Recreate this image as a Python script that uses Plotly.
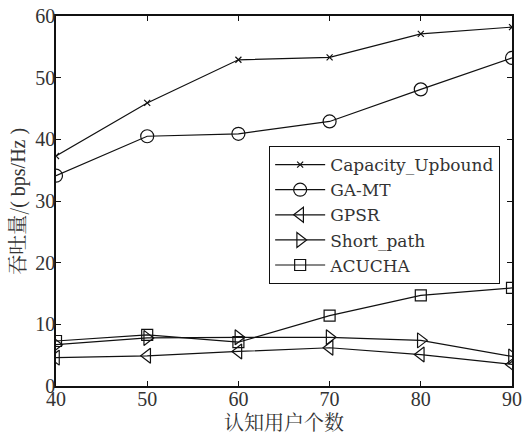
import plotly.graph_objects as go

users = [40, 50, 60, 70, 80, 90]
capacity_upbound = [37.3, 45.9, 52.9, 53.3, 57.1, 58.2]
ga_mt = [34.1, 40.5, 40.9, 42.9, 48.1, 53.2]
gpsr = [4.6, 4.9, 5.6, 6.2, 5.1, 3.5]
short_path = [6.7, 7.8, 7.9, 7.9, 7.4, 4.8]
acucha = [7.3, 8.3, 7.1, 11.4, 14.7, 15.9]

x_ticks = [40, 50, 60, 70, 80, 90]
y_ticks = [0, 10, 20, 30, 40, 50, 60]
x_title = "认知用户个数"
y_title = "吞吐量/<span style='font-family:Liberation Serif'>( bps/Hz )</span>"

FONT = "Liberation Serif, DejaVu Serif, serif"
LEGFONT = "DejaVu Serif, Liberation Serif, serif"
CJK = "Noto Serif CJK SC, Noto Sans CJK SC, serif"

series = [
    ("Capacity_Upbound", capacity_upbound, "x-thin-open", 6),
    ("GA-MT", ga_mt, "circle-open", 13),
    ("GPSR", gpsr, "triangle-left-open", 13),
    ("Short_path", short_path, "triangle-right-open", 13),
    ("ACUCHA", acucha, "square-open", 11),
]

fig = go.Figure()
for name, vals, sym, size in series:
    fig.add_trace(go.Scatter(
        x=users, y=vals, name=name, mode="lines+markers",
        line=dict(color="#111111", width=1.2),
        marker=dict(symbol=sym, size=size, color="#111111",
                    line=dict(color="#111111", width=1.2)),
    ))

axis_common = dict(
    showline=True, linecolor="#111111", linewidth=1.5, mirror="ticks",
    ticks="inside", ticklen=5, tickcolor="#111111", tickwidth=1,
    showgrid=False, zeroline=False, automargin=False,
    ticklabeloverflow="allow",
    tickfont=dict(family=FONT, size=20, color="#333333"),
)

fig.update_layout(
    width=528, height=434,
    margin=dict(l=56, r=16, t=16, b=48),
    paper_bgcolor="white", plot_bgcolor="white",
    showlegend=True,
    legend=dict(
        x=0.467, y=0.649, xanchor="left", yanchor="top",
        bgcolor="white", bordercolor="#111111", borderwidth=1.2,
        font=dict(family=LEGFONT, size=17, color="#333333"),
        tracegroupgap=0, itemwidth=50,
    ),
    xaxis=dict(range=[40, 90], tickvals=x_ticks, ticktext=[str(v) for v in x_ticks],
               ticklabelstandoff=-6, **axis_common),
    yaxis=dict(range=[0, 60], tickvals=y_ticks, ticktext=[str(v) for v in y_ticks],
               ticklabelstandoff=-5, **axis_common),
    annotations=[
        dict(text=x_title, xref="paper", yref="paper", x=0.5, y=-0.095,
             xanchor="center", yanchor="middle", showarrow=False,
             font=dict(family=CJK, size=20, color="#333333")),
        dict(text=y_title, xref="paper", yref="paper", x=-0.088, y=0.5,
             xanchor="center", yanchor="middle", showarrow=False, textangle=-90,
             font=dict(family=CJK, size=20, color="#333333")),
    ],
)

fig.write_html(
    "out.html",
    config={"displayModeBar": False},
    post_script="document.body.style.margin='0';document.body.style.overflow='hidden';",
)
